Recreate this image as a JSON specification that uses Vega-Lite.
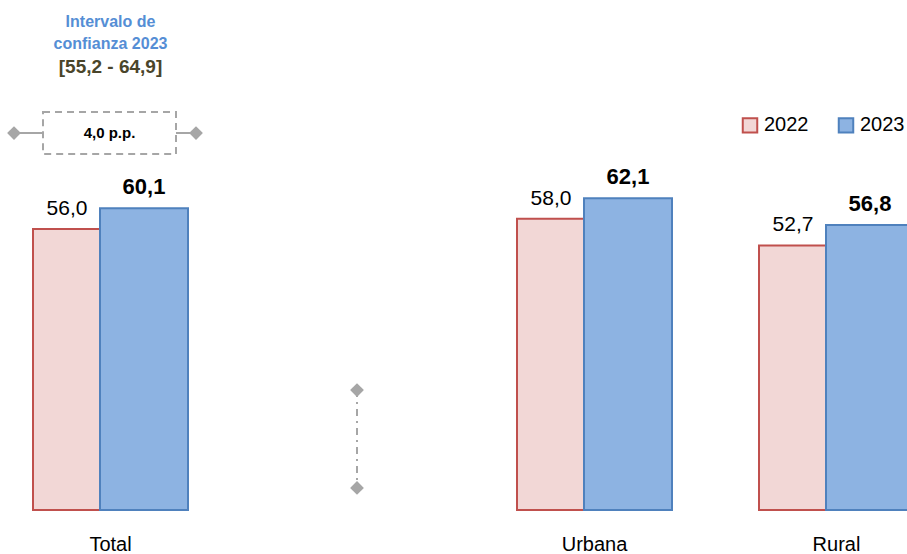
{
  "$schema": "https://vega.github.io/schema/vega-lite/v6.json",
  "width": 907,
  "height": 510,
  "autosize": {"type": "none"},
  "padding": {"left": 0, "top": 0, "right": 0, "bottom": 44},
  "background": "white",
  "config": {
    "view": {"stroke": null},
    "font": "Liberation Sans Narrow, Arial Narrow, Liberation Sans, sans-serif",
    "locale": {"number": {"decimal": ",", "thousands": ".", "grouping": [3], "currency": ["", ""]}}
  },
  "datasets": {
    "bars": [
      {"cat": "Total", "year": "2022", "value": 56.0},
      {"cat": "Total", "year": "2023", "value": 60.1},
      {"cat": "Urbana", "year": "2022", "value": 58.0},
      {"cat": "Urbana", "year": "2023", "value": 62.1},
      {"cat": "Rural", "year": "2022", "value": 52.7},
      {"cat": "Rural", "year": "2023", "value": 56.8}
    ],
    "title1": [
      {"cat": "Total", "y": 97.2, "text": "Intervalo de"},
      {"cat": "Total", "y": 92.8, "text": "confianza 2023"}
    ],
    "title2": [{"cat": "Total", "y": 88.2, "text": "[55,2 - 64,9]"}],
    "box": [{"cat": "Total", "y": 79.3, "y2": 70.9, "y3": 75.1, "text": "4,0 p.p."}],
    "sep": [{"cat": "sep", "y": 23.9, "y2": 4.4}],
    "sepPts": [{"cat": "sep", "y": 23.9}, {"cat": "sep", "y": 4.4}]
  },
  "encoding": {
    "x": {
      "field": "cat",
      "type": "nominal",
      "sort": ["Total", "sep", "Urbana", "Rural"],
      "scale": {"domain": ["Total", "sep", "Urbana", "Rural"], "range": [-10.5, 957.5], "paddingInner": 0, "paddingOuter": 0},
      "axis": {
        "title": null,
        "domain": false,
        "ticks": false,
        "labelAngle": 0,
        "labelFontSize": 20,
        "labelColor": "#000000",
        "labelPadding": 24,
        "labelExpr": "datum.value == 'sep' ? '' : datum.value"
      }
    }
  },
  "layer": [
    {
      "data": {"name": "bars"},
      "transform": [{"filter": "datum.year == '2022'"}],
      "mark": {"type": "bar", "width": 88, "xOffset": -33.5, "strokeWidth": 2},
      "encoding": {
        "y": {"field": "value", "type": "quantitative", "scale": {"domain": [0, 101.6], "nice": false, "zero": true}, "axis": null},
        "fill": {"field": "year", "type": "nominal", "scale": {"domain": ["2022", "2023"], "range": ["#F2D7D6", "#8DB3E2"]},
          "legend": {"title": null, "orient": "none", "legendX": 740, "legendY": 115, "direction": "horizontal", "symbolType": "square", "symbolSize": 210, "symbolStrokeWidth": 2, "labelFontSize": 20, "labelColor": "#000000", "columnPadding": 25, "labelOffset": 4, "symbolOpacity": 1}},
        "stroke": {"field": "year", "type": "nominal", "scale": {"domain": ["2022", "2023"], "range": ["#C0504D", "#4F81BD"]}}
      }
    },
    {
      "data": {"name": "bars"},
      "transform": [{"filter": "datum.year == '2023'"}],
      "mark": {"type": "bar", "width": 88, "xOffset": 33.5, "strokeWidth": 2},
      "encoding": {
        "y": {"field": "value", "type": "quantitative"},
        "fill": {"field": "year", "type": "nominal"},
        "stroke": {"field": "year", "type": "nominal"}
      }
    },
    {
      "data": {"name": "bars"},
      "transform": [{"filter": "datum.year == '2022'"}],
      "mark": {"type": "text", "xOffset": -43.5, "baseline": "alphabetic", "dy": -14, "fontSize": 21, "color": "#000000"},
      "encoding": {
        "y": {"field": "value", "type": "quantitative"},
        "text": {"field": "value", "type": "quantitative", "format": ".1f"}
      }
    },
    {
      "data": {"name": "bars"},
      "transform": [{"filter": "datum.year == '2023'"}],
      "mark": {"type": "text", "xOffset": 33.5, "baseline": "alphabetic", "dy": -14, "fontSize": 22, "fontWeight": "bold", "color": "#000000"},
      "encoding": {
        "y": {"field": "value", "type": "quantitative"},
        "text": {"field": "value", "type": "quantitative", "format": ".1f"}
      }
    },
    {
      "data": {"name": "title1"},
      "mark": {"type": "text", "fontSize": 16, "fontWeight": "bold", "color": "#558ED5", "baseline": "middle"},
      "encoding": {
        "y": {"field": "y", "type": "quantitative"},
        "text": {"field": "text"}
      }
    },
    {
      "data": {"name": "title2"},
      "mark": {"type": "text", "fontSize": 19, "fontWeight": "bold", "color": "#4A452A", "baseline": "middle"},
      "encoding": {
        "y": {"field": "y", "type": "quantitative"},
        "text": {"field": "text"}
      }
    },
    {
      "data": {"name": "box"},
      "mark": {"type": "bar", "width": 133, "xOffset": -1, "fill": null, "fillOpacity": 0, "stroke": "#A6A6A6", "strokeWidth": 2, "strokeDash": [7, 5]},
      "encoding": {
        "y": {"field": "y", "type": "quantitative"},
        "y2": {"field": "y2"}
      }
    },
    {
      "data": {"name": "box"},
      "mark": {"type": "text", "fontSize": 15, "fontWeight": "bold", "color": "#000000", "baseline": "middle", "xOffset": -1},
      "encoding": {
        "y": {"field": "y3", "type": "quantitative"},
        "text": {"field": "text"}
      }
    },
    {
      "data": {"name": "box"},
      "mark": {"type": "rule", "xOffset": -96.5, "x2Offset": -67.5, "stroke": "#A6A6A6", "strokeWidth": 2},
      "encoding": {
        "x2": {"field": "cat"},
        "y": {"field": "y3", "type": "quantitative"}
      }
    },
    {
      "data": {"name": "box"},
      "mark": {"type": "rule", "xOffset": 65.5, "x2Offset": 85.5, "stroke": "#A6A6A6", "strokeWidth": 2},
      "encoding": {
        "x2": {"field": "cat"},
        "y": {"field": "y3", "type": "quantitative"}
      }
    },
    {
      "data": {"name": "box"},
      "mark": {"type": "point", "shape": "diamond", "filled": true, "color": "#A6A6A6", "size": 190, "opacity": 1, "xOffset": -96.5},
      "encoding": {
        "y": {"field": "y3", "type": "quantitative"}
      }
    },
    {
      "data": {"name": "box"},
      "mark": {"type": "point", "shape": "diamond", "filled": true, "color": "#A6A6A6", "size": 190, "opacity": 1, "xOffset": 85.5},
      "encoding": {
        "y": {"field": "y3", "type": "quantitative"}
      }
    },
    {
      "data": {"name": "sep"},
      "mark": {"type": "rule", "stroke": "#A6A6A6", "strokeWidth": 2, "strokeDash": [7, 5, 2, 5], "xOffset": 4.5},
      "encoding": {
        "y": {"field": "y", "type": "quantitative"},
        "y2": {"field": "y2"}
      }
    },
    {
      "data": {"name": "sepPts"},
      "mark": {"type": "point", "shape": "diamond", "filled": true, "color": "#A6A6A6", "size": 190, "opacity": 1, "xOffset": 4.5},
      "encoding": {
        "y": {"field": "y", "type": "quantitative"}
      }
    }
  ]
}
